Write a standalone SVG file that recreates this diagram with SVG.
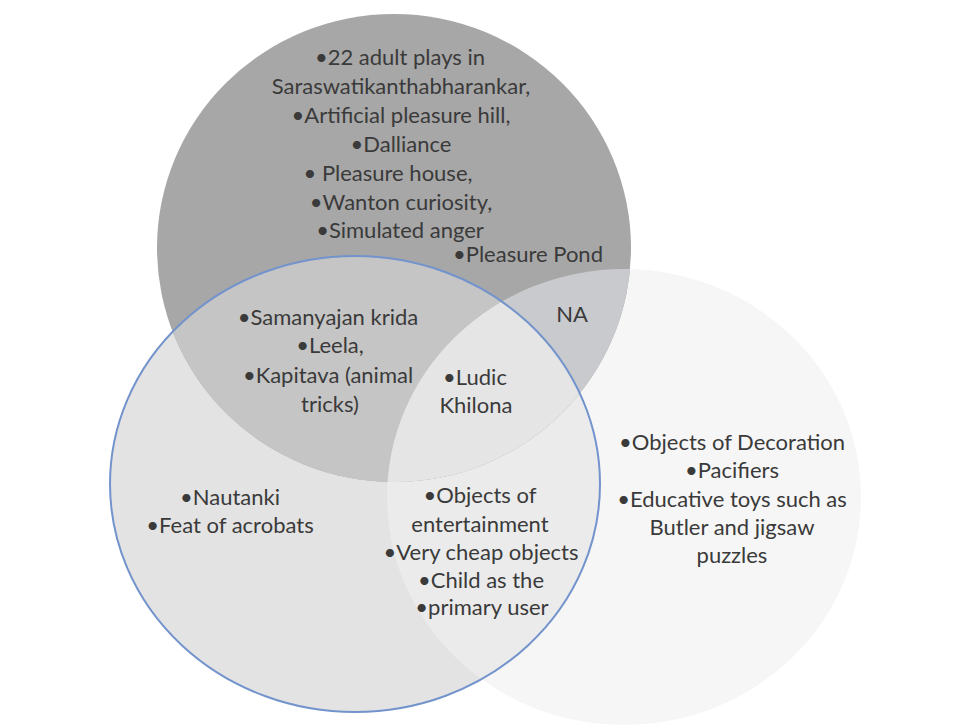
<svg xmlns="http://www.w3.org/2000/svg" width="954" height="728" viewBox="0 0 954 728">
<style>
  text { font-family: Lato, "Liberation Sans", sans-serif; font-size: 22px; fill: #3a3a3a; text-anchor: middle; }
</style>
<defs>
  <clipPath id="clipA"><ellipse cx="394" cy="248" rx="237" ry="234"/></clipPath>
  <clipPath id="clipB"><ellipse cx="624" cy="497" rx="237" ry="228"/></clipPath>
  <clipPath id="clipC"><ellipse cx="355" cy="484" rx="245" ry="228"/></clipPath>
</defs>
<rect width="954" height="728" fill="#ffffff"/>

<g id="circle-right">
  <ellipse cx="624" cy="497" rx="237" ry="228" fill="#f6f6f6"/>
</g>
<g id="circle-left">
  <ellipse cx="355" cy="484" rx="245" ry="228" fill="#e3e3e3"/>
  <g clip-path="url(#clipB)">
    <ellipse cx="355" cy="484" rx="245" ry="228" fill="#ebebeb"/>
  </g>
</g>
<g id="circle-top">
  <ellipse cx="394" cy="248" rx="237" ry="234" fill="#a7a7a7"/>
  <g clip-path="url(#clipA)">
    <ellipse cx="355" cy="484" rx="245" ry="228" fill="#c5c5c5"/>
    <ellipse cx="624" cy="497" rx="237" ry="228" fill="#c9cacd"/>
    <g clip-path="url(#clipC)">
      <ellipse cx="624" cy="497" rx="237" ry="228" fill="#e5e5e5"/>
    </g>
  </g>
</g>
<g id="circle-left-outline">
  <ellipse cx="355" cy="484" rx="245" ry="228" fill="none" stroke="#7393cc" stroke-width="2"/>
</g>

<g id="label-top">
  <text x="400" y="65">•22 adult plays in</text>
  <text x="401" y="94">Saraswatikanthabharankar,</text>
  <text x="401" y="123">•Artificial pleasure hill,</text>
  <text x="401" y="152">•Dalliance</text>
  <text x="388" y="181">• Pleasure house,</text>
  <text x="401" y="210">•Wanton curiosity,</text>
  <text x="400" y="238">•Simulated anger</text>
  <text x="528" y="262">•Pleasure Pond</text>
</g>
<g id="label-top-left">
  <text x="328" y="325">•Samanyajan krida</text>
  <text x="330" y="353">•Leela,</text>
  <text x="328" y="383">•Kapitava (animal</text>
  <text x="330" y="412">tricks)</text>
</g>
<g id="label-top-right">
  <text x="572" y="322">NA</text>
</g>
<g id="label-center">
  <text x="475" y="385">•Ludic</text>
  <text x="476" y="413">Khilona</text>
</g>
<g id="label-left">
  <text x="230" y="505">•Nautanki</text>
  <text x="230" y="533">•Feat of acrobats</text>
</g>
<g id="label-left-right">
  <text x="480" y="503">•Objects of</text>
  <text x="480" y="532">entertainment</text>
  <text x="481" y="560">•Very cheap objects</text>
  <text x="481" y="588">•Child as the</text>
  <text x="482" y="615">•primary user</text>
</g>
<g id="label-right">
  <text x="732" y="450">•Objects of Decoration</text>
  <text x="732" y="478">•Pacifiers</text>
  <text x="732" y="507">•Educative toys such as</text>
  <text x="732" y="535">Butler and jigsaw</text>
  <text x="732" y="563">puzzles</text>
</g>
</svg>
